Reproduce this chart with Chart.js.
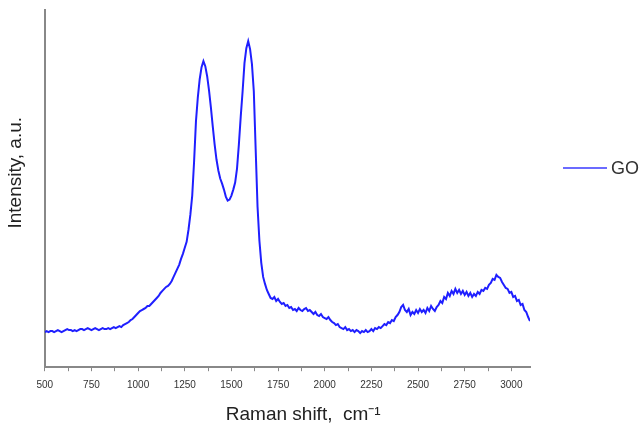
<!DOCTYPE html>
<html>
<head>
<meta charset="utf-8">
<script src="https://cdn.jsdelivr.net/npm/chart.js@4/dist/chart.umd.min.js"></script>
<style>
  html, body { margin: 0; padding: 0; background: #fff; }
  #wrap { width: 643px; height: 432px; }
</style>
</head>
<body>
<div id="wrap"><canvas id="raman"></canvas></div>
<script>
// Raman spectrum of GO, sampled every 10 cm-1 from 500 to 3100
var shiftStart = 500;
var shiftStep = 10;
var intensity = [
  35, 36, 35, 36, 36, 35, 36, 37, 36, 35,   // 500-590
  36, 37, 38, 37, 37, 36, 37, 36, 37, 38,   // 600-690
  38, 37, 38, 39, 38, 37, 38, 39, 38, 37,   // 700-790
  38, 39, 38, 38, 39, 38, 39, 40, 39, 40,   // 800-890
  41, 40, 42, 43, 44, 45, 47, 48, 50, 52,   // 900-990
  54, 56, 57, 58, 59, 61, 61, 63, 65, 67,   // 1000-1090
  69, 71, 74, 76, 78, 80, 81, 83, 86, 90,   // 1100-1190
  94, 98, 102, 108, 113, 119, 125, 137, 152, 171, // 1200-1290
  205, 245, 269, 287, 299, 305, 300, 290, 276, 259, // 1300-1390
  240, 222, 207, 196, 188, 183, 177, 170, 166, 167, // 1400-1490
  171, 177, 184, 198, 222, 250, 275, 303, 318, 325, // 1500-1590
  317, 302, 275, 217, 160, 126, 104, 90, 83, 77,   // 1600-1690
  73, 69, 68, 70, 66, 68, 65, 63, 64, 61,   // 1700-1790
  62, 59, 60, 57, 58, 56, 59, 57, 56, 58,   // 1800-1890
  59, 56, 57, 55, 53, 55, 52, 51, 53, 50,   // 1900-1990
  49, 48, 50, 47, 45, 44, 42, 43, 40, 39,   // 2000-2090
  38, 40, 37, 38, 36, 37, 35, 37, 36, 34,   // 2100-2190
  36, 35, 37, 35, 36, 38, 36, 39, 38, 40,   // 2200-2290
  39, 41, 43, 42, 45, 44, 47, 46, 50, 52,   // 2300-2390
  55, 60, 62, 57, 55, 58, 52, 55, 53, 57,   // 2400-2490
  54, 58, 55, 57, 54, 59, 56, 61, 58, 56,   // 2500-2590
  60, 62, 66, 64, 70, 68, 74, 71, 76, 73,   // 2600-2690
  78, 74, 77, 73, 76, 72, 75, 71, 74, 70,   // 2700-2790
  73, 71, 75, 73, 77, 76, 79, 78, 82, 84,   // 2800-2890
  88, 87, 92, 90, 89, 85, 82, 79, 78, 74,   // 2900-2990
  75, 70, 71, 66, 67, 62, 63, 57, 55, 50,   // 3000-3090
  46                                        // 3100
];

var xMin = 500;
var xMax = 3100;
var yMax = 356;
var seriesName = 'GO';
// leading spaces nudge both titles off-centre, as in the original
var xTitle = '      Raman shift,  cm\u207B\u00B9';
var yTitle = '      Intensity, a.u.';

var points = intensity.map(function(v, i) {
  return { x: shiftStart + i * shiftStep, y: v };
});

// legend drawn to the right of the plot
var sideLegend = {
  id: 'sideLegend',
  afterDraw: function(chart) {
    var ctx = chart.ctx;
    var y = 168;
    ctx.save();
    ctx.strokeStyle = '#3a3aff';
    ctx.lineWidth = 1.6;
    ctx.beginPath();
    ctx.moveTo(563, y);
    ctx.lineTo(607, y);
    ctx.stroke();
    ctx.fillStyle = '#333';
    ctx.font = '18px "Liberation Sans", Arial, sans-serif';
    ctx.textBaseline = 'middle';
    ctx.fillText(seriesName, 611, y + 1);
    ctx.restore();
  }
};

var ramanChart = new Chart(document.getElementById('raman').getContext('2d'), {
  type: 'line',
  data: {
    datasets: [{
      label: seriesName,
      data: points,
      borderColor: '#1f1fff',
      borderWidth: 2,
      pointRadius: 0,
      fill: false,
      tension: 0
    }]
  },
  options: {
    responsive: true,
    maintainAspectRatio: false,
    animation: false,
    layout: { padding: { top: 10, right: 113, left: 4, bottom: 6 } },
    plugins: {
      legend: { display: false },
      tooltip: { enabled: false }
    },
    scales: {
      x: {
        type: 'linear',
        min: xMin,
        max: xMax,
        ticks: {
          stepSize: 125,
          includeBounds: false,
          autoSkip: false,
          maxRotation: 0,
          padding: 8,
          color: '#333',
          font: { family: '"Liberation Sans", Arial, sans-serif', size: 10 },
          callback: function(v) { return v % 250 === 0 ? v : ''; }
        },
        grid: {
          drawOnChartArea: false,
          drawTicks: true,
          tickLength: 4,
          color: '#888'
        },
        border: { display: true, color: '#888', width: 2 },
        title: {
          display: true,
          text: xTitle,
          color: '#222',
          font: { family: '"Liberation Sans", Arial, sans-serif', size: 19 },
          padding: { top: 4, bottom: 0 }
        }
      },
      y: {
        min: 0,
        max: yMax,
        ticks: { display: false },
        grid: { display: true, drawOnChartArea: false, drawTicks: false },
        border: { display: true, color: '#888', width: 2 },
        title: {
          display: true,
          text: yTitle,
          color: '#222',
          font: { family: '"Liberation Sans", Arial, sans-serif', size: 19 },
          padding: { top: 0, bottom: 18 }
        }
      }
    }
  },
  plugins: [sideLegend]
});
</script>
</body>
</html>
